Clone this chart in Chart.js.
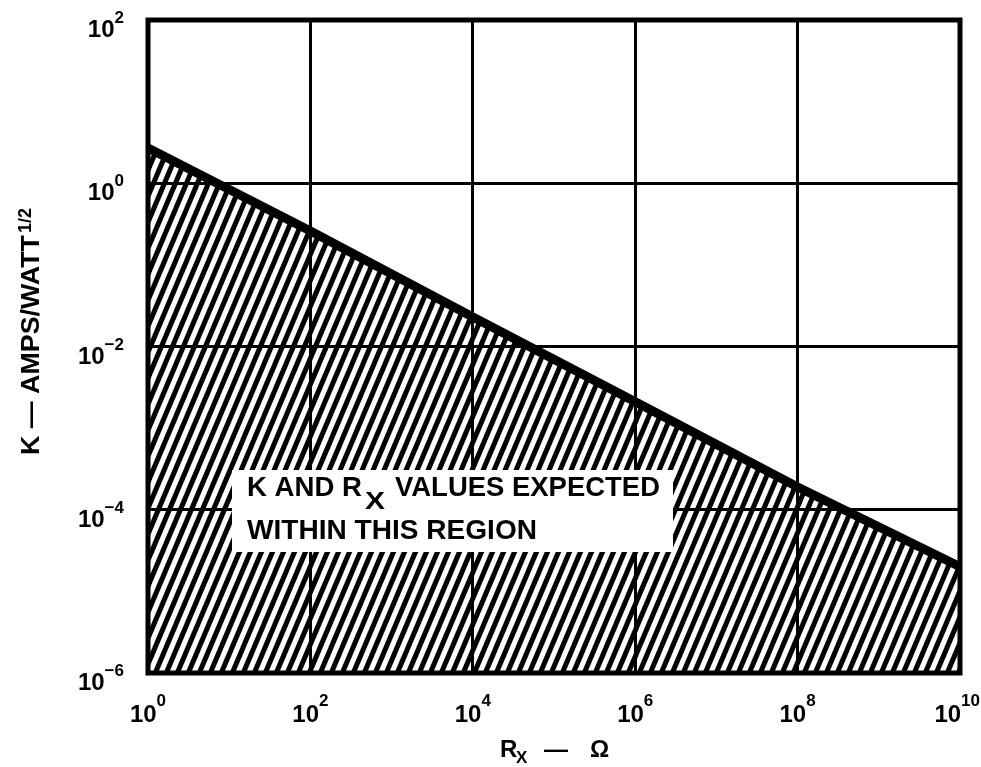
<!DOCTYPE html>
<html lang="en">
<head>
  <meta charset="UTF-8" />
  <title>K vs Rx</title>
  <script src="https://cdn.jsdelivr.net/npm/chart.js"></script>
  <style>
    html, body { margin: 0; padding: 0; background: #fff; }
  </style>
</head>
<body>
  <canvas id="kChart" width="981" height="767"></canvas>
  <script>
    // values
    const rxValues = [1, 1e2, 1e4, 1e6, 1e8, 1e10];
    const kValues = [2.7, 0.26, 0.023, 0.0021, 0.00019, 0.00002];
    const xTickExps = [0, 2, 4, 6, 8, 10];
    const yTickExps = [-6, -4, -2, 0, 2];

    const FONT = '"Liberation Sans", Arial, sans-serif';

    // diagonal hatching for the region under the line
    function makeHatch() {
      const w = 11, h = 26;
      const c = document.createElement('canvas');
      c.width = w; c.height = h;
      const g = c.getContext('2d');
      g.fillStyle = '#fff';
      g.fillRect(0, 0, w, h);
      g.strokeStyle = '#000';
      g.lineWidth = 5;
      for (let k = -1; k <= 1; k++) {
        g.beginPath();
        g.moveTo(k * w - w, 2 * h);
        g.lineTo(k * w + 2 * w, -h);
        g.stroke();
      }
      return g.createPattern(c, 'repeat');
    }

    // draw text squeezed/stretched to a given width
    function fitText(ctx, text, x, y, font, width) {
      ctx.save();
      ctx.font = font;
      const w = ctx.measureText(text).width;
      ctx.translate(x, y);
      ctx.scale(width / w, 1);
      ctx.fillText(text, 0, 0);
      ctx.restore();
    }

    function supLabel(exp) {
      return exp < 0 ? '\u2212' + Math.abs(exp) : String(exp);
    }

    const decoPlugin = {
      id: 'deco',
      afterDraw(chart) {
        const { ctx, chartArea: a, scales } = chart;
        ctx.save();
        ctx.fillStyle = '#000';
        ctx.textBaseline = 'alphabetic';
        ctx.textAlign = 'left';

        // thick frame
        ctx.strokeStyle = '#000';
        ctx.lineWidth = 5;
        ctx.strokeRect(a.left, a.top, a.right - a.left, a.bottom - a.top);

        const big = 'bold 24px ' + FONT;
        const small = 'bold 17px ' + FONT;

        // x tick labels 10^n
        xTickExps.forEach(e => {
          const px = scales.x.getPixelForValue(Math.pow(10, e));
          ctx.font = big;
          const w1 = ctx.measureText('10').width;
          ctx.font = small;
          const w2 = ctx.measureText(supLabel(e)).width;
          let x0 = px - (w1 + w2) / 2;
          if (x0 + w1 + w2 > 980) x0 = 980 - w1 - w2;
          ctx.font = big;
          ctx.fillText('10', x0, 722);
          ctx.font = small;
          ctx.fillText(supLabel(e), x0 + w1, 706);
        });

        // y tick labels 10^n
        yTickExps.forEach(e => {
          const py = scales.y.getPixelForValue(Math.pow(10, e));
          const sup = supLabel(e);
          ctx.font = small;
          const w2 = ctx.measureText(sup).width;
          ctx.font = big;
          const w1 = ctx.measureText('10').width;
          const x0 = 124 - w1 - w2;
          ctx.fillText('10', x0, py + 17);
          ctx.font = small;
          ctx.fillText(sup, x0 + w1, py + 3);
        });

        // y axis title
        ctx.save();
        ctx.translate(39, 455);
        ctx.rotate(-Math.PI / 2);
        fitText(ctx, 'K \u2014 AMPS/WATT', 0, 0, 'bold 25px ' + FONT, 220);
        ctx.font = 'bold 18px ' + FONT;
        ctx.fillText('1/2', 222, -8);
        ctx.restore();

        // x axis title
        ctx.font = big;
        ctx.fillText('R', 500, 757);
        ctx.font = 'bold 17px ' + FONT;
        ctx.fillText('X', 516, 763);
        ctx.font = big;
        ctx.fillText('\u2014', 544, 757);
        ctx.fillText('\u03A9', 590, 757);

        // region label box
        ctx.fillStyle = '#fff';
        ctx.fillRect(232, 470, 441, 82);
        ctx.fillStyle = '#000';
        const lf = 'bold 28px ' + FONT;
        fitText(ctx, 'K AND R', 247, 496, lf, 115);
        fitText(ctx, 'X', 365, 509, 'bold 24px ' + FONT, 20);
        fitText(ctx, 'VALUES EXPECTED', 395, 496, lf, 265);
        fitText(ctx, 'WITHIN THIS REGION', 247, 539, lf, 290);

        ctx.restore();
      }
    };

    const gridOpts = { color: '#000', lineWidth: 3, drawTicks: false, z: 1 };

    new Chart(document.getElementById('kChart'), {
      type: 'line',
      data: {
        datasets: [{
          data: rxValues.map((x, i) => ({ x: x, y: kValues[i] })),
          borderColor: '#000',
          borderWidth: 9,
          pointRadius: 0,
          tension: 0,
          fill: 'start',
          backgroundColor: makeHatch()
        }]
      },
      options: {
        responsive: false,
        animation: false,
        devicePixelRatio: 1,
        layout: { padding: { left: 148, right: 21, top: 20, bottom: 94 } },
        plugins: { legend: { display: false }, tooltip: { enabled: false } },
        scales: {
          x: {
            type: 'logarithmic',
            min: 1,
            max: 1e10,
            ticks: { display: false },
            grid: gridOpts,
            border: { display: false },
            afterBuildTicks: s => { s.ticks = xTickExps.map(e => ({ value: Math.pow(10, e) })); }
          },
          y: {
            type: 'logarithmic',
            min: 1e-6,
            max: 100,
            ticks: { display: false },
            grid: gridOpts,
            border: { display: false },
            afterBuildTicks: s => { s.ticks = yTickExps.map(e => ({ value: Math.pow(10, e) })); }
          }
        }
      },
      plugins: [decoPlugin]
    });
  </script>
</body>
</html>
